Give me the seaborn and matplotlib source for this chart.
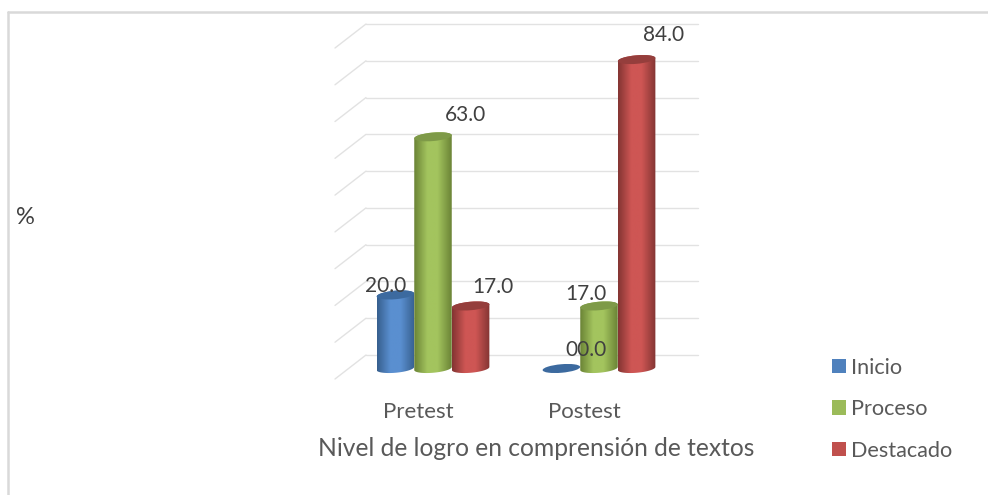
import matplotlib
matplotlib.use('Agg')
import matplotlib.pyplot as plt
from matplotlib.lines import Line2D
from matplotlib.patches import Ellipse, Rectangle
from matplotlib.path import Path
from matplotlib.transforms import IdentityTransform, ScaledTranslation
import seaborn as sns
import pandas as pd
import numpy as np

# data
tests = ['Pretest', 'Postest']
niveles = ['Inicio', 'Proceso', 'Destacado']
inicio = [20.0, 0.0]
proceso = [63.0, 17.0]
destacado = [17.0, 84.0]
y_ticks = [0, 10, 20, 30, 40, 50, 60, 70, 80, 90]

# colours: legend, side shadow, side highlight, cap
colors = ['#4F81BD', '#9BBB59', '#C0504D']
dark = ['#37608F', '#6B8436', '#843533']
light = ['#5A8FD0', '#A3C45E', '#CE5654']
caps = ['#3C6A9F', '#7E9A48', '#953E3C']

# pixel nudges for the value labels, same order as the bars
label_offsets = [[(-10, 9), (25, 18)], [(32, 22), (-13, 12)], [(22, 19), (27, 25)]]

W, H = 988, 495
FONT = 'Lato'

sns.set_theme(style='white')
plt.rcParams['font.family'] = [FONT, 'DejaVu Sans']

df = pd.DataFrame({
    'test': tests * 3,
    'nivel': np.repeat(niveles, 2),
    'valor': inicio + proceso + destacado,
})

fig = plt.figure(figsize=(W / 100, H / 100), dpi=100, facecolor='white')
ax = fig.add_axes([350 / W, (H - 368.5) / H, 332 / W, 331 / H])
sns.barplot(data=df, x='test', y='valor', hue='nivel', order=tests, hue_order=niveles,
            palette=colors, width=0.68, gap=0, dodge=True, ax=ax, zorder=3, legend=True)

ax.set_xlim(-0.5, 1.5)
ax.set_ylim(0, 90)
ax.set_yticks(y_ticks)
ax.set_yticklabels([])
ax.tick_params(left=False, bottom=False, axis='both')
ax.set_ylabel('')
ax.set_xlabel('')
ax.patch.set_alpha(0)
sns.despine(ax=ax, left=True, bottom=True)

fig.canvas.draw()
to_px = ax.transData.transform

# back wall grid with the little floor diagonals
DX, DY = 16, 13.5
for t in y_ticks:
    x0, y = to_px((-0.5, t))
    x1, _ = to_px((1.5, t))
    wall_y = y + DY
    ax.add_line(Line2D([x0 + DX, x1 + DX], [wall_y, wall_y], transform=IdentityTransform(),
                       color='#E2E2E2', lw=1.0, clip_on=False, zorder=1))
    ax.add_line(Line2D([x0 - 15, x0 + DX], [wall_y - 24, wall_y], transform=IdentityTransform(),
                       color='#E2E2E2', lw=1.0, clip_on=False, zorder=1))

# turn the flat bars into cylinders
TILT = np.radians(5)
CAP_H = 8.5


def ellipse_pts(cx, cy, a, b, t):
    x = cx + a * np.cos(t) * np.cos(TILT) - b * np.sin(t) * np.sin(TILT)
    y = cy + a * np.cos(t) * np.sin(TILT) + b * np.sin(t) * np.cos(TILT)
    return np.column_stack([x, y])


for i, container in enumerate(ax.containers):
    for j, bar in enumerate(container):
        x0, v = bar.get_x(), bar.get_height()
        x1 = x0 + bar.get_width()
        px0, py0 = to_px((x0, 0))
        px1, py1 = to_px((x1, v))
        cx = (px0 + px1) / 2
        a = (px1 - px0) / 2
        b = CAP_H / 2
        if v > 0:
            bottom = ellipse_pts(cx, py0, a, b, np.linspace(np.pi, 2 * np.pi, 40))
            top = ellipse_pts(cx, py1, a, b, np.linspace(0, np.pi, 40))
            outline = np.vstack([bottom, top, bottom[:1]])
            cmap = matplotlib.colors.LinearSegmentedColormap.from_list(
                f'cyl{i}', [dark[i], light[i], light[i], dark[i]])
            grad = np.interp(np.linspace(0, 1, 64), [0, 0.42, 0.55, 1], [0, 0.4, 0.6, 1])[None, :]
            im = ax.imshow(grad, extent=[x0, x1, -3, v + 3], aspect='auto', cmap=cmap, vmin=0, vmax=1,
                           interpolation='bilinear', zorder=3 + i * 0.1)
            im.set_clip_box(fig.bbox)
            im.set_clip_path(Path(outline), IdentityTransform())
        bar.set_visible(False)
        ax.add_patch(Ellipse((cx, py1), 2 * a, CAP_H, angle=5, transform=IdentityTransform(),
                             facecolor=caps[i], edgecolor='none', clip_on=False, zorder=3.05 + i * 0.1))
        ax.annotate(f'{v:04.1f}', xy=(x0 + bar.get_width() / 2, v), xytext=label_offsets[i][j],
                    textcoords='offset pixels', ha='center', va='center', fontsize=15,
                    color='#404040', zorder=6, annotation_clip=False)

ax.set_xlim(-0.5, 1.5)
ax.set_ylim(0, 90)

# category labels sit on the front edge of the floor
ax.set_xticks(range(len(tests)))
ax.set_xticklabels(tests, fontsize=16, color='#595959')
ax.tick_params(axis='x', pad=18)
shift = ScaledTranslation(-15 / 100, 0, fig.dpi_scale_trans)
for label in ax.get_xticklabels():
    label.set_transform(label.get_transform() + shift)

fig.text(536 / W, 1 - 448 / H, 'Nivel de logro en comprensión de textos', ha='center', va='center',
         fontsize=17.7, color='#595959')
fig.text(25 / W, 1 - 218 / H, '%', ha='center', va='center', fontsize=17, color='#404040')

handles = [Rectangle((0, 0), 1, 1, facecolor=c, edgecolor='none') for c in colors]
ax.legend(handles, niveles, loc='upper left', bbox_to_anchor=(812 / W, 1 - 338 / H),
          bbox_transform=fig.transFigure, frameon=False, fontsize=15.6, labelcolor='#595959',
          handlelength=0.65, handleheight=0.65, handletextpad=0.25, labelspacing=1.0, borderpad=0.4)

# chart frame, only top and left survive in the crop
fig.add_artist(Line2D([8 / W, 8 / W], [0, 1 - 12 / H], color='#D9D9D9', lw=1.8))
fig.add_artist(Line2D([8 / W, 1], [1 - 12 / H, 1 - 12 / H], color='#D9D9D9', lw=1.8))

fig.savefig('out.png', dpi=100)
